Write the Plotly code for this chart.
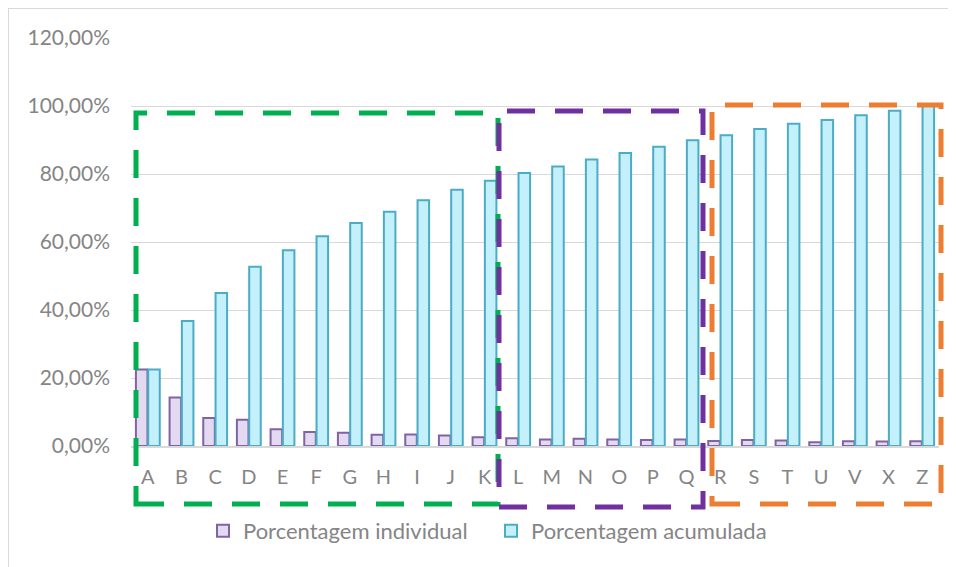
import plotly.graph_objects as go

categories = ["A", "B", "C", "D", "E", "F", "G", "H", "I", "J", "K", "L",
              "M", "N", "O", "P", "Q", "R", "S", "T", "U", "V", "X", "Z"]
individual = [0.225, 0.143, 0.082, 0.077, 0.049, 0.041, 0.039, 0.033, 0.034, 0.031, 0.026, 0.023,
              0.019, 0.021, 0.019, 0.018, 0.019, 0.015, 0.018, 0.016, 0.011, 0.014, 0.013, 0.014]
accumulated = [0.225, 0.368, 0.450, 0.527, 0.576, 0.617, 0.656, 0.689, 0.723, 0.754, 0.780, 0.803,
               0.822, 0.843, 0.862, 0.880, 0.899, 0.914, 0.932, 0.948, 0.959, 0.973, 0.986, 1.000]

OFF = 8  # page body margin
W, H = 956 - OFF, 567 - OFF
L, R, T, B = 131 - OFF, 17, 38 - OFF, 121
PW, PH = W - L - R, H - T - B

def px(x):
    # page pixel -> paper
    return (x - OFF - L) / PW

def py(y):
    return (H - B - (y - OFF)) / PH

font_family = "Lato, 'Open Sans', sans-serif"
gray = "#858585"

fig = go.Figure()
fig.add_trace(go.Bar(
    x=categories, y=individual, name="Porcentagem individual",
    marker=dict(color="#E3DAF2", line=dict(color="#8064A2", width=2)),
))
fig.add_trace(go.Bar(
    x=categories, y=accumulated, name="Porcentagem acumulada",
    marker=dict(color="#C4F0FC", line=dict(color="#4BACC6", width=2)),
))

shapes = []
# outer chart border (left + top visible)
shapes.append(dict(type="line", xref="paper", yref="paper", x0=px(8), x1=px(8), y0=py(8), y1=py(575),
                   line=dict(color="#D9D9D9", width=2)))
shapes.append(dict(type="line", xref="paper", yref="paper", x0=px(8), x1=px(965), y0=py(8), y1=py(8),
                   line=dict(color="#D9D9D9", width=2)))

boxes = [
    ("#00B050", 136, 498, 113, 504),
    ("#7030A0", 499, 703, 111, 507),
    ("#ED7D31", 712, 941, 105, 504),
]
for color, x0, x1, y0, y1 in boxes:
    shapes.append(dict(type="rect", xref="paper", yref="paper",
                       x0=px(x0), x1=px(x1), y0=py(y1), y1=py(y0),
                       line=dict(color=color, width=5, dash="28px,20px"),
                       fillcolor="rgba(0,0,0,0)", layer="above"))

fig.update_layout(
    width=W, height=H,
    margin=dict(l=L, r=R, t=T, b=B, autoexpand=False),
    paper_bgcolor="white", plot_bgcolor="white",
    barmode="group", bargap=0.27, bargroupgap=0.06,
    separators=",.",
    font=dict(family=font_family, size=19, color=gray),
    showlegend=True,
    legend=dict(orientation="h", x=px(203), xanchor="left", y=py(531), yanchor="middle",
                font=dict(size=22, color=gray), itemwidth=30, traceorder="normal",
                entrywidth=243, entrywidthmode="pixels",
                bgcolor="rgba(0,0,0,0)"),
    shapes=shapes,
)
fig.update_yaxes(range=[0, 1.2], dtick=0.2, tickformat=".2%", showgrid=True,
                 gridcolor="#D9D9D9", gridwidth=1.3, zeroline=False, showline=False,
                 ticks="", ticklabelstandoff=20, tickfont=dict(size=21, color=gray))
fig.update_xaxes(showline=True, linecolor="#D9D9D9", linewidth=2, ticks="",
                 ticklabelstandoff=12, tickfont=dict(size=20, color=gray),
                 range=[-0.5, len(categories) - 0.5])

fig.write_html("out.html")
